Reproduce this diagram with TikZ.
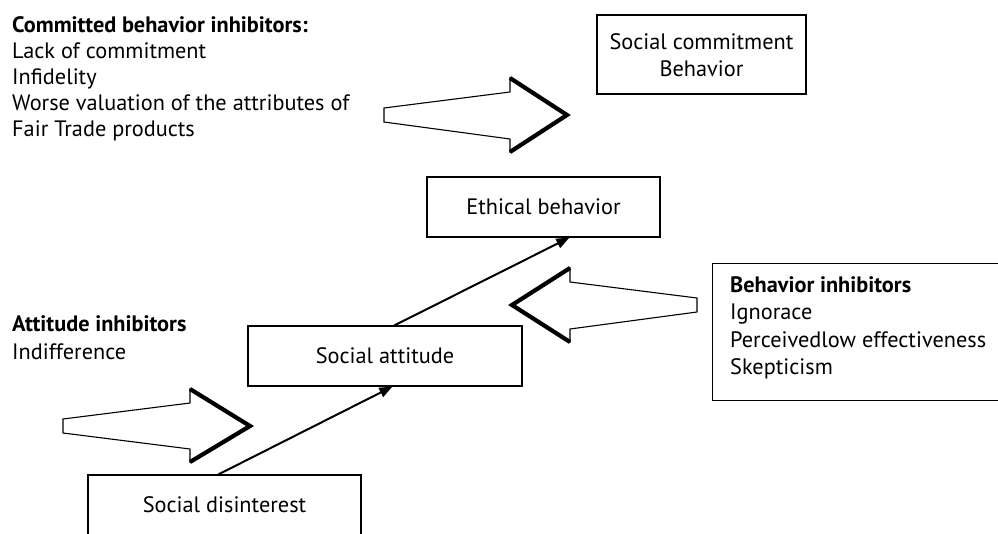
\documentclass[tikz,border=0pt]{standalone}
\usepackage{fontspec}
\setmainfont{PT Sans}
\usetikzlibrary{arrows.meta}
\tikzset{
  box/.style={draw, line width=1.2pt, inner sep=0pt},
  conn/.style={line width=2pt, -{Triangle[length=13pt,width=10pt]}},
  barrow/.style={draw, line width=1.1pt, fill=white, line join=miter},
  bhead/.style={line width=4.2pt, line join=miter, line cap=butt},
  txt/.style={inner sep=0pt, align=left, font=\fontsize{22.3}{26}\selectfont},
  btxt/.style={inner sep=0pt, align=center, font=\fontsize{22.3}{27}\selectfont}
}
\begin{document}
\begin{tikzpicture}[x=1pt,y=-1pt]
\useasboundingbox (0,0) rectangle (998,533);
\clip (0,0) rectangle (998,533);
\fill[white] (0,0) rectangle (998,533);

% boxes
\node[box, minimum width=209pt, minimum height=79pt] (comm) at (701.5,54.5) {};
\node[btxt] (commtext) at (701.5,55) {Social commitment\\Behavior};
\node[box, minimum width=233pt, minimum height=60pt] (eth) at (543.5,207) {};
\node[btxt] (ethtext) at (543.5,207) {Ethical behavior};
\node[box, minimum width=274pt, minimum height=60pt] (att) at (385,356) {};
\node[btxt] (atttext) at (385,356) {Social attitude};
\node[box, minimum width=273pt, minimum height=90pt] (dis) at (224.5,520) {};
\node[btxt] (distext) at (224.5,505) {Social disinterest};
\node[box, minimum width=320pt, minimum height=137pt, anchor=north west] (bibox) at (712,263) {};

% side texts
\node[txt, anchor=north west] (cbi) at (12,16) {\textbf{Committed behavior inhibitors:}\\Lack of commitment\\Infidelity\\Worse valuation of the attributes of\\Fair Trade products};
\node[txt, anchor=north west] (ai) at (12,315) {\textbf{Attitude inhibitors}\\[2.5pt]Indifference};
\node[txt, anchor=north west] (bi) at (730,276) {\textbf{Behavior inhibitors}\\[1.5pt]Ignorace\\[1.5pt]Perceivedlow effectiveness\\[1pt]Skepticism};

% block arrows
\draw[barrow] (384,108) -- (510,92) -- (510,78) -- (567,115) -- (510,152) -- (510,139) -- (384,122) -- cycle;
\draw[bhead] (510,78) -- (567,115) -- (510,152);
\draw[barrow] (63,419) -- (190,403) -- (190,389) -- (250,426) -- (190,462) -- (190,449) -- (63,433) -- cycle;
\draw[bhead] (190,389) -- (250,426) -- (190,462);
\draw[barrow] (697,298) -- (570,282) -- (570,268) -- (512,305) -- (570,342) -- (570,329) -- (697,312) -- cycle;
\draw[bhead] (570,268) -- (512,305) -- (570,342);

% connectors
\draw[conn] ([xshift=131pt]dis.north west) -- ([xshift=145pt]att.south west);
\draw[conn] ([xshift=147pt]att.north west) -- ([xshift=143pt]eth.south west);
\end{tikzpicture}
\end{document}
